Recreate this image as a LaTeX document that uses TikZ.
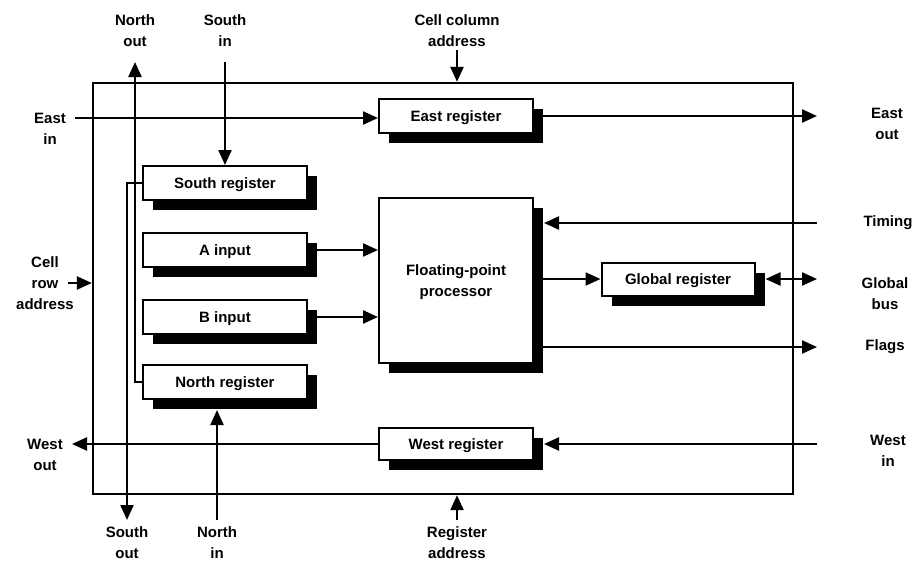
\documentclass[tikz,border=0pt]{standalone}
\usepackage{fontspec}
\setmainfont{Liberation Sans}
\usetikzlibrary{arrows.meta,positioning,shadows}

\tikzset{
  >={Triangle[length=15pt,width=13pt]},
  wire/.style={line width=2.3pt},
  regbox/.style={draw, line width=2pt, fill=white, inner sep=0pt,
    minimum width=154pt, minimum height=34pt, text height=11pt, text depth=0pt,
    general shadow={fill=black, shadow xshift=10pt, shadow yshift=-10pt}},
  lbl/.style={inner sep=0pt, align=center},
}

\begin{document}
\begin{tikzpicture}[x=1pt, y=-1pt, font=\fontsize{15}{21}\selectfont\bfseries]
\useasboundingbox (0,0) rectangle (917,562);

% cell frame
\node[draw, line width=2.3pt, inner sep=0pt, minimum width=700pt, minimum height=411pt] (cell) at (443,288.5) {};

% registers
\node[regbox] (ereg) at (456,116) {East register};
\node[regbox, minimum width=164pt] (sreg) at (225,183) {South register};
\node[regbox, minimum width=164pt] (ain) at (225,250) {A input};
\node[regbox, minimum width=164pt] (bin) at (225,317) {B input};
\node[regbox, minimum width=164pt] (nreg) at (225,382) {North register};
\node[regbox, align=center, text height=32pt, minimum height=165pt] (fpp) at (456,280) {Floating-point\\processor};
\node[regbox, minimum width=153pt, minimum height=33pt] (greg) at (678,279) {Global register};
\node[regbox, minimum height=32pt] (wreg) at (456,444) {West register};

% labels
\node[lbl] (nout) at (135,31) {North\\out};
\node[lbl] (sin) at (225,31) {South\\in};
\node[lbl] (ccol) at (457,31) {Cell column\\address};
\node[lbl] (ein) at (50,129) {East\\in};
\node[lbl] (crow) at (45,283) {Cell\\row\\address};
\node[lbl] (wout) at (45,455) {West\\out};
\node[lbl] (sout) at (127,543) {South\\out};
\node[lbl] (nin) at (217,543) {North\\in};
\node[lbl] (radr) at (457,543) {Register\\address};
\node[lbl] (eout) at (887,124) {East\\out};
\node[lbl] (tim) at (888,223) {Timing};
\node[lbl] (gbus) at (885,294) {Global\\bus};
\node[lbl] (flg) at (885,347) {Flags};
\node[lbl] (win) at (888,451) {West\\in};

% free ends
\coordinate (noutp) at (135,62);
\coordinate (sinp) at (225,62);
\coordinate (ccolp) at (457,50);
\coordinate (einp) at (75,118);
\coordinate (crowp) at (68,283);
\coordinate (woutp) at (72,444);
\coordinate (soutp) at (127,520);
\coordinate (ninp) at (217,520);
\coordinate (radrp) at (457,520);
\coordinate (rside) at (817,0);
\coordinate (fpps) at ([xshift=10pt]fpp.east);
\coordinate (gregs) at ([xshift=10pt]greg.east);
\coordinate (wregs) at ([xshift=10pt]wreg.east);
\coordinate (nregb) at ([yshift=-10pt]nreg.south);

% connections
\draw[wire,->] (sinp) -- (sreg.north);
\draw[wire,->] (sreg.west) -| (soutp);
\draw[wire,->] (nreg.west) -| (noutp);
\draw[wire,->] (ninp) -- (ninp |- nregb);
\draw[wire,->] (einp) -- (einp -| ereg.west);
\draw[wire,->] (ereg.east) -- (rside |- ereg.east);
\draw[wire,->] (ccolp) -- (ccolp |- cell.north);
\draw[wire,->] (radrp) -- (radrp |- cell.south);
\draw[wire,->] (crowp) -- (crowp -| cell.west);
\draw[wire,->] (ain.east) -- (ain.east -| fpp.west);
\draw[wire,->] (bin.east) -- (bin.east -| fpp.west);
\draw[wire,->] (rside |- tim) -- (fpps |- tim);
\draw[wire,->] (fpp.east |- greg.west) -- (greg.west);
\draw[wire,<->] (gregs) -- (rside |- gregs);
\draw[wire,->] (fpp.east |- flg) -- (rside |- flg);
\draw[wire,->] (rside |- wreg.east) -- (wregs);
\draw[wire,->] (wreg.west) -- (woutp |- wreg.west);
\end{tikzpicture}
\end{document}
